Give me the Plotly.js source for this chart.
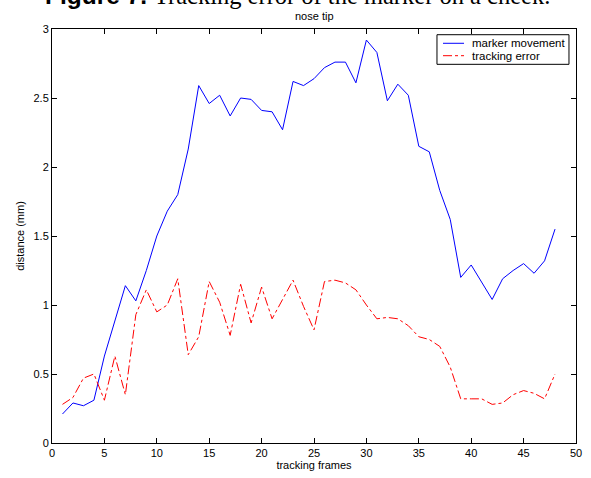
<!DOCTYPE html>
<html>
<head>
<meta charset="utf-8">
<script src="https://cdn.plot.ly/plotly-3.0.1.min.js"></script>
<style>html,body{margin:0;padding:0;background:#fff;}#chart{width:591px;height:478px;}</style>
</head>
<body>
<div id="chart"></div>
<script>
var frames = [];
for (var i = 1; i <= 48; i++) frames.push(i);
var markerMovement = [0.21, 0.29, 0.27, 0.31, 0.63, 0.89, 1.14, 1.03, 1.25, 1.50,
  1.68, 1.80, 2.13, 2.59, 2.46, 2.52, 2.37, 2.50, 2.49, 2.41,
  2.40, 2.27, 2.62, 2.59, 2.64, 2.72, 2.76, 2.76, 2.61, 2.92,
  2.83, 2.48, 2.60, 2.52, 2.15, 2.11, 1.83, 1.62, 1.20, 1.29,
  1.16, 1.04, 1.19, 1.25, 1.30, 1.23, 1.32, 1.55];
var trackingError = [0.28, 0.33, 0.47, 0.50, 0.31, 0.63, 0.35, 0.93, 1.11, 0.95,
  1.00, 1.19, 0.64, 0.77, 1.17, 1.02, 0.78, 1.15, 0.87, 1.13,
  0.90, 1.04, 1.18, 0.99, 0.82, 1.17, 1.18, 1.16, 1.11, 1.00,
  0.90, 0.91, 0.90, 0.85, 0.77, 0.75, 0.70, 0.55, 0.32, 0.32,
  0.32, 0.28, 0.29, 0.35, 0.38, 0.36, 0.32, 0.50];
var seriesNames = ['marker movement', 'tracking error'];
var seriesColors = ['#0000ff', '#ff0000'];
var seriesDash = ['solid', 'dashdot'];
var xTicks = [0, 5, 10, 15, 20, 25, 30, 35, 40, 45, 50];
var yTicks = [0, 0.5, 1, 1.5, 2, 2.5, 3];
var yTickText = ['0', '0.5', '1', '1.5', '2', '2.5', '3'];

var font = 'Arial, "Liberation Sans", Helvetica, sans-serif';
var seriesValues = [markerMovement, trackingError];
var traces = seriesValues.map(function (vals, k) {
  return {x: frames, y: vals, name: seriesNames[k], type: 'scatter', mode: 'lines',
    showlegend: false, line: {color: seriesColors[k], width: 1, dash: seriesDash[k]}};
});

// legend box (drawn with shapes/annotations in paper coords)
var lg = {x0: 0.7347, x1: 0.9866, y0: 0.9147, y1: 0.9862,
  lineX0: 0.7462, lineX1: 0.7863, textX: 0.7977, rows: [0.9655, 0.9355]};
var shapes = [{type: 'rect', xref: 'paper', yref: 'paper', x0: lg.x0, x1: lg.x1, y0: lg.y0, y1: lg.y1,
  line: {color: '#000', width: 1}, fillcolor: '#fff', layer: 'above'}];
var annotations = [];
seriesNames.forEach(function (nm, k) {
  shapes.push({type: 'line', xref: 'paper', yref: 'paper', x0: lg.lineX0, x1: lg.lineX1,
    y0: lg.rows[k], y1: lg.rows[k], line: {color: seriesColors[k], width: 1, dash: seriesDash[k]}, layer: 'above'});
  annotations.push({text: nm, xref: 'paper', yref: 'paper', x: lg.textX, y: lg.rows[k],
    xanchor: 'left', yanchor: 'middle', showarrow: false,
    font: {family: font, size: 11.5, color: '#000'}});
});
annotations.push({text: 'nose tip', xref: 'paper', yref: 'paper', x: 0.5, y: 1.012, xanchor: 'center', yanchor: 'bottom',
  showarrow: false, font: {family: font, size: 11, color: '#000'}});
annotations.push({text: '<b>Figure 7.</b> <span style="font-family:\'Liberation Serif\', \'Times New Roman\', serif">Tracking error of the marker on a cheek.</span>',
  xref: 'paper', yref: 'paper', x: 0.469, y: 1.0435, xanchor: 'center', yanchor: 'bottom',
  showarrow: false, font: {family: font, size: 24.5, color: '#000'}});

var axisCommon = {
  showline: true, linecolor: '#000', linewidth: 1, mirror: 'ticks',
  ticks: 'inside', ticklen: 5, tickcolor: '#000', tickwidth: 1,
  showgrid: false, zeroline: false,
  tickfont: {family: font, size: 11, color: '#000'}
};
var layout = {
  width: 591, height: 478,
  margin: {l: 52, r: 15, t: 29, b: 35},
  paper_bgcolor: '#fff', plot_bgcolor: '#fff',
  showlegend: false,
  xaxis: Object.assign({}, axisCommon, {range: [0, 50], tickvals: xTicks,
    title: {text: 'tracking frames', font: {family: font, size: 11, color: '#000'}, standoff: 2}}),
  yaxis: Object.assign({}, axisCommon, {range: [0, 3], tickvals: yTicks, ticktext: yTickText,
    title: {text: 'distance (mm)', font: {family: font, size: 11, color: '#000'}, standoff: 6}}),
  shapes: shapes,
  annotations: annotations
};
Plotly.newPlot('chart', traces, layout, {displayModeBar: false, staticPlot: true});
</script>
</body>
</html>
